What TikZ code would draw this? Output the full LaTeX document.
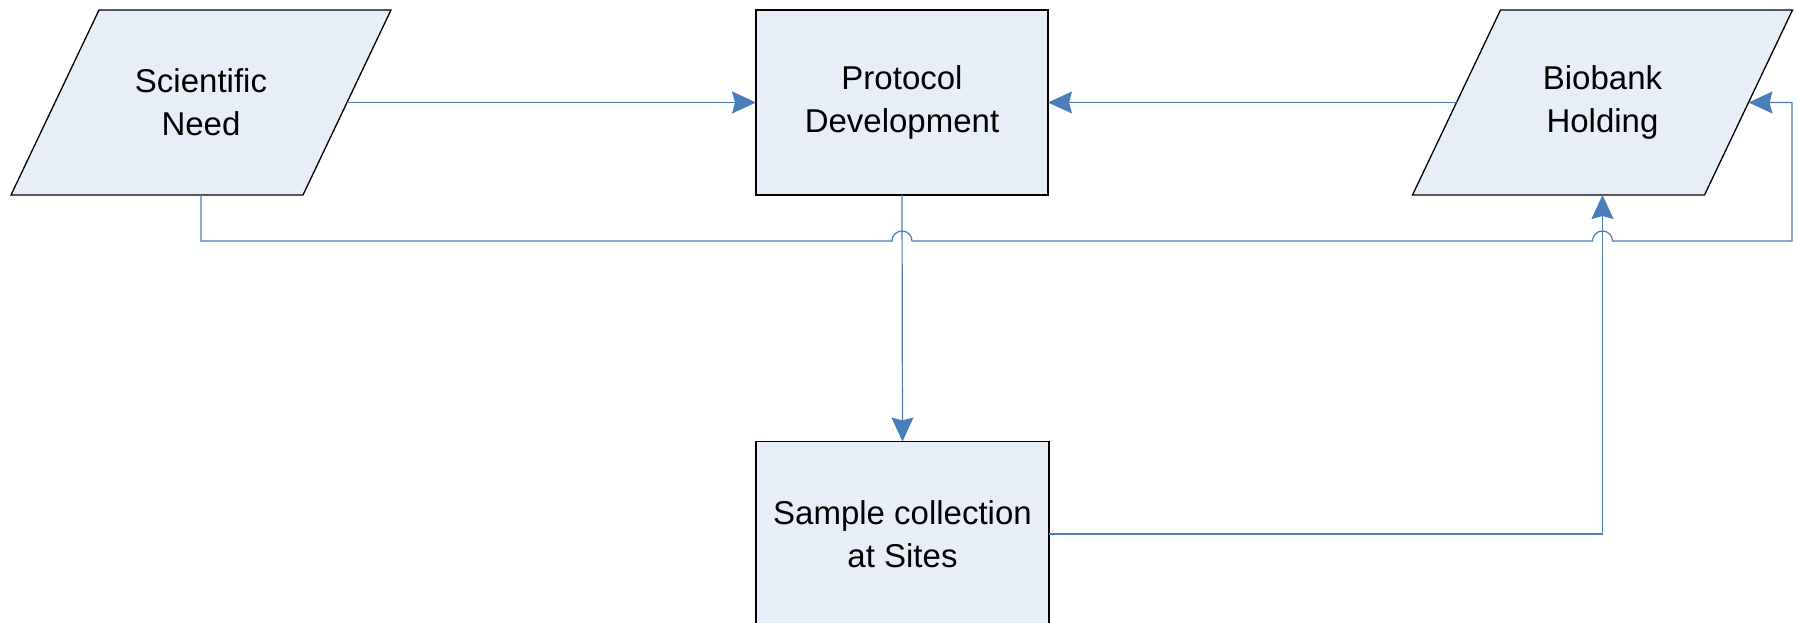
\documentclass[tikz,border=0pt]{standalone}
\usepackage{fontspec}
\setmainfont{Liberation Sans}
\usetikzlibrary{arrows.meta}
\definecolor{boxfill}{HTML}{E8EEF7}
\definecolor{linkblue}{HTML}{4A7EBB}
\tikzset{
  txt/.style={align=center,font=\fontsize{33}{43}\selectfont,text=black},
  procbox/.style={txt,rectangle,draw=black,line width=1.3pt,fill=boxfill,
    minimum width=292pt,minimum height=185pt,inner sep=0pt,outer sep=0pt},
  databox/.style={txt,rectangle,minimum width=380pt,minimum height=185pt,
    inner sep=0pt,outer sep=0pt},
  dataoutline/.style={draw=black,line width=1.3pt,fill=boxfill},
  link/.style={draw=linkblue,line width=1.2pt},
  arr/.style={link,-{Stealth[length=24pt,width=22pt,inset=3pt,fill=linkblue]}}
}
\begin{document}
\begin{tikzpicture}[x=1pt,y=1pt]
\useasboundingbox (0,0) rectangle (1797,623);
\node[databox] (sn) at (201,520.5) {};
\node[databox] (bio) at (1602.5,520.5) {};
\foreach \n in {sn,bio}{
  \path[dataoutline] (\n.south west) -- ([xshift=-88pt]\n.south east)
    -- (\n.north east) -- ([xshift=88pt]\n.north west) -- cycle;
}
\node[txt] (sntext) at (sn.center) {Scientific\\Need};
\node[txt] (biotext) at (bio.center) {Biobank\\Holding};
\node[procbox] (prot) at (902,520.5) {Protocol\\Development};
\node[procbox,minimum width=293pt] (samp) at (902.5,89) {Sample collection\\at Sites};
\coordinate (bus) at (0,382);
\coordinate (loopx) at (1792,0);
\draw[arr] ([xshift=-44pt]sn.east) -- (prot.west);
\draw[arr] ([xshift=44pt]bio.west) -- (prot.east);
\draw[arr] (prot.south) -- (samp.north);
\draw[arr] (samp.east) -- (bio.south |- samp.east) -- (bio.south);
\draw[arr] (sn.south) -- (sn.south |- bus)
  -- ([xshift=-10pt]prot.south |- bus) arc[start angle=180,end angle=0,radius=10pt]
  -- ([xshift=-10pt]bio.south |- bus) arc[start angle=180,end angle=0,radius=10pt]
  -- (loopx |- bus) -- (loopx |- bio.east) -- ([xshift=-44pt]bio.east);
\end{tikzpicture}
\end{document}
